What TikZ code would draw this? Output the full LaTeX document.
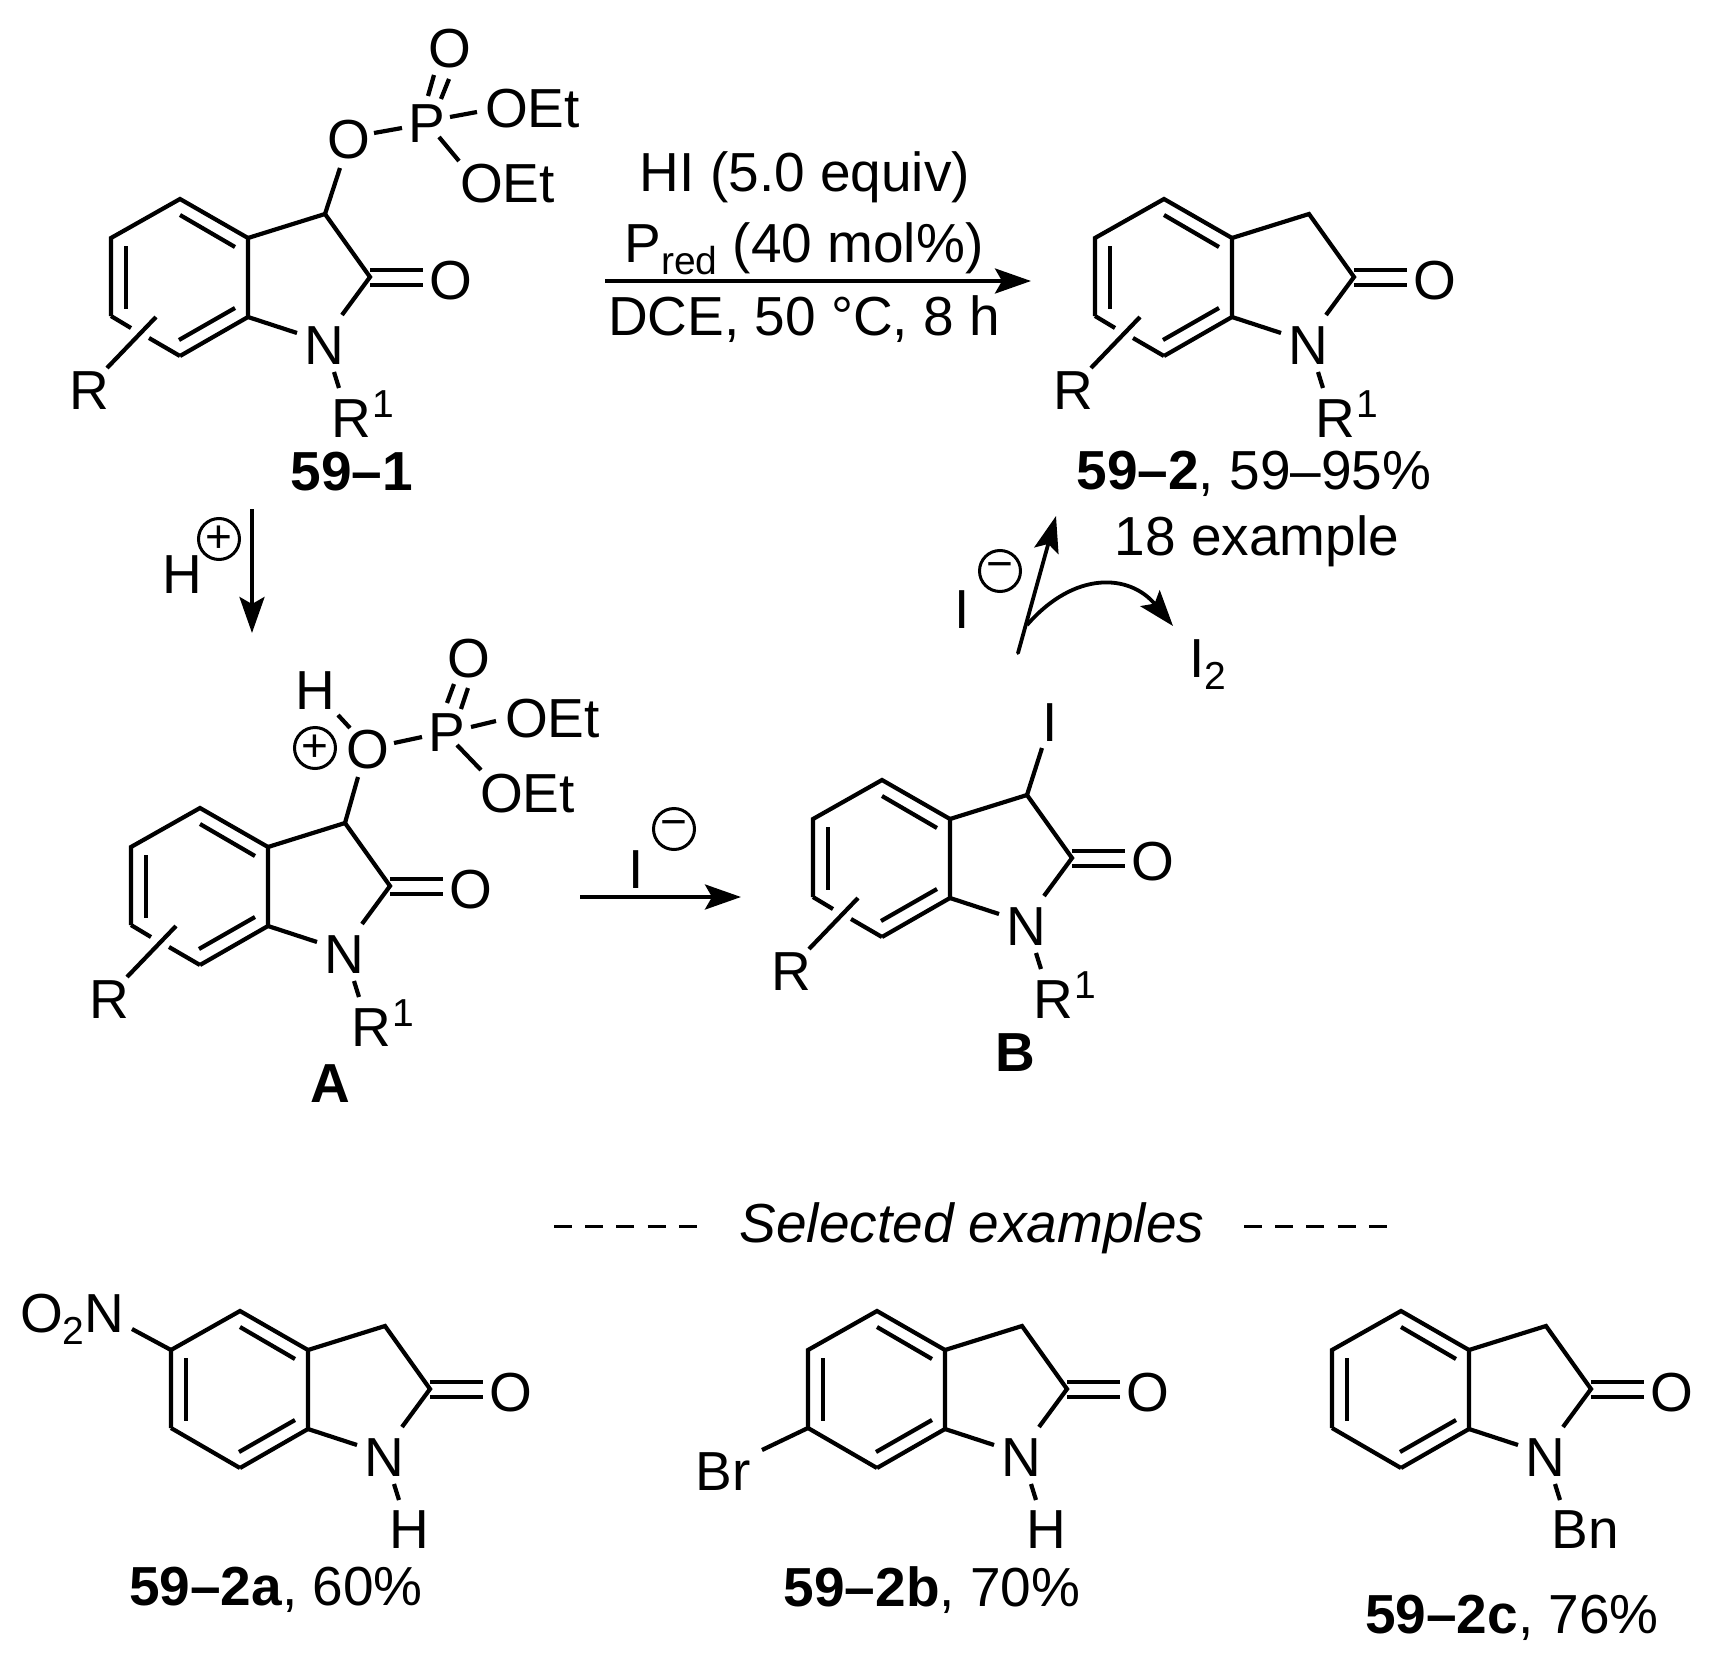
\documentclass[tikz,border=0pt]{standalone}
\usepackage{fontspec}
\setmainfont{Liberation Sans}
\usetikzlibrary{arrows.meta}
\newcommand{\chemfs}{\fontsize{27.5}{33}\selectfont}
\newcommand{\subfs}{\fontsize{19.5}{24}\selectfont}
\newcommand{\Rone}{R\kern1pt\raisebox{10pt}{\subfs 1}}
\tikzset{
  bond/.style={line width=2.1pt,line cap=butt,line join=miter},
  atom/.style={font=\chemfs,inner sep=0pt,outer sep=0pt,anchor=center},
  atomw/.style={font=\chemfs,inner sep=0pt,outer sep=0pt,anchor=base west},
  charge/.style={draw,circle,line width=1.5pt,minimum size=20.5pt,inner sep=0pt,font=\fontsize{23}{23}\selectfont},
  rxn/.style={line width=1.9pt,-{Stealth[length=18pt,width=12.5pt,inset=3.5pt]}}
}
% #1 id, #2 x, #3 y, #4 1=R substituent crossing the ring
\newcommand{\oxcore}[4]{%
  \begin{scope}[shift={(#2,#3)}]
    \coordinate (#1top) at (-68,-39);
    \coordinate (#1ul) at (-137,0);
    \coordinate (#1ll) at (-137,78);
    \coordinate (#1bot) at (-68,118);
    \coordinate (#1c7a) at (0,79);
    \coordinate (#1c3a) at (0,0);
    \coordinate (#1c3) at (77,-24);
    \coordinate (#1c2) at (122,39);
    \coordinate (#1na) at (94,77);
    \coordinate (#1nb) at (49,95);
    \coordinate (#1nc) at (86,134);
    \coordinate (#1nd) at (91,150);
    \coordinate (#1i1) at (-68,-23);
    \coordinate (#1i2) at (-13,9);
    \coordinate (#1i3) at (-122,8);
    \coordinate (#1i4) at (-122,71);
    \coordinate (#1i5) at (-69,102);
    \coordinate (#1i6) at (-13,70);
    \coordinate (#1d1) at (122,32);
    \coordinate (#1d2) at (175,32);
    \coordinate (#1d3) at (122,47);
    \coordinate (#1d4) at (175,47);
    \node[atom] (#1O) at (203,43) {O};
    \node[atom] (#1N) at (76,108) {N};
    \draw[bond] (#1bot) -- (#1c7a) -- (#1c3a) -- (#1top) -- (#1ul) -- (#1ll);
    \draw[bond] (#1c3a) -- (#1c3) -- (#1c2) -- (#1na);
    \draw[bond] (#1c7a) -- (#1nb);
    \draw[bond] (#1nc) -- (#1nd);
    \draw[bond] (#1i1) -- (#1i2);
    \draw[bond] (#1i3) -- (#1i4);
    \draw[bond] (#1i5) -- (#1i6);
    \draw[bond] (#1d1) -- (#1d2);
    \draw[bond] (#1d3) -- (#1d4);
    \ifnum#4=1
      \coordinate (#1g1) at (-117,90);
      \coordinate (#1g2) at (-99,100);
      \coordinate (#1r1) at (-141,130);
      \coordinate (#1r2) at (-92,79);
      \draw[bond] (#1ll) -- (#1g1);
      \draw[bond] (#1g2) -- (#1bot);
      \draw[bond] (#1r1) -- (#1r2);
      \node[atom] (#1R) at (-159,153) {R};
      \node[atomw] (#1Rone) at (83,199) {\Rone};
    \else
      \draw[bond] (#1ll) -- (#1bot);
    \fi
  \end{scope}}
\begin{document}
\begin{tikzpicture}[x=0.5pt,y=-0.5pt]
\useasboundingbox (0,0) rectangle (1726,1665);

% 59-1
\oxcore{a}{248}{238}{1}
\node[atom] (aOe) at (349,140) {O};
\node[atom] (aP) at (427,124) {P};
\node[atom] (aOt) at (450,49) {O};
\node[atomw] (aE1) at (485,127) {OEt};
\node[atomw] (aE2) at (460,202) {OEt};
\coordinate (ab1) at (340,168);
\coordinate (ab2) at (374,133);
\coordinate (ab3) at (402,128);
\coordinate (ab4) at (434,75);
\coordinate (ab5) at (428,96);
\coordinate (ab6) at (449,79);
\coordinate (ab7) at (441,99);
\coordinate (ab8) at (450,117);
\coordinate (ab9) at (477,112);
\coordinate (ab10) at (439,137);
\coordinate (ab11) at (459,161);
\draw[bond] (ac3) -- (ab1);
\draw[bond] (ab2) -- (ab3);
\draw[bond] (ab4) -- (ab5);
\draw[bond] (ab6) -- (ab7);
\draw[bond] (ab8) -- (ab9);
\draw[bond] (ab10) -- (ab11);
\node[font=\chemfs\bfseries,inner sep=0pt] (l1) at (352,472) {59–1};

% 59-2
\oxcore{b}{1232}{238}{1}
\node[font=\chemfs,inner sep=0pt] (l2) at (1254,474) {\textbf{59–2}, 59–95\%};
\node[font=\chemfs,inner sep=0pt] (l3) at (1257,541) {18 example};

% conditions
\coordinate (c1) at (605,281);
\coordinate (c2) at (1031,281);
\draw[rxn] (c1) -- (c2);
\node[font=\chemfs,inner sep=0pt] (t1) at (805,177) {HI (5.0 equiv)};
\node[font=\chemfs,inner sep=0pt] (t2) at (804,249) {P\raisebox{-6pt}{\subfs red} (40 mol\%)};
\node[font=\chemfs,inner sep=0pt] (t3) at (804,319) {DCE, 50 °C, 8 h};

% H+
\node[atom] (hp) at (182,575) {H};
\node[charge] (hq) at (219,539) {+};
\coordinate (d1) at (252,509);
\coordinate (d2) at (252,633);
\draw[rxn] (d1) -- (d2);

% A
\oxcore{c}{268}{847}{1}
\node[atom] (cOe) at (368,750) {O};
\node[atom] (cP) at (447,733) {P};
\node[atom] (cOt) at (469,659) {O};
\node[atom] (cH) at (315,691) {H};
\node[charge] (cq) at (315,748) {+};
\node[atomw] (cE1) at (505,737) {OEt};
\node[atomw] (cE2) at (480,812) {OEt};
\coordinate (cb1) at (358,777);
\coordinate (cb2) at (394,743);
\coordinate (cb3) at (422,737);
\coordinate (cb4) at (454,684);
\coordinate (cb5) at (447,703);
\coordinate (cb6) at (468,688);
\coordinate (cb7) at (461,709);
\coordinate (cb8) at (471,727);
\coordinate (cb9) at (496,721);
\coordinate (cb10) at (457,745);
\coordinate (cb11) at (481,770);
\coordinate (cb12) at (338,715);
\coordinate (cb13) at (350,728);
\draw[bond] (cc3) -- (cb1);
\draw[bond] (cb2) -- (cb3);
\draw[bond] (cb4) -- (cb5);
\draw[bond] (cb6) -- (cb7);
\draw[bond] (cb8) -- (cb9);
\draw[bond] (cb10) -- (cb11);
\draw[bond] (cb12) -- (cb13);
\node[font=\chemfs\bfseries,inner sep=0pt] (l4) at (330,1084) {A};

% I- arrow
\node[atom] (im) at (636,870) {I};
\node[charge] (iq) at (674,829) {−};
\coordinate (e1) at (580,897);
\coordinate (e2) at (741,897);
\draw[rxn] (e1) -- (e2);

% B
\oxcore{d}{950}{819}{1}
\node[atom] (dI) at (1050,723) {I};
\coordinate (db1) at (1042,748);
\draw[bond] (dc3) -- (db1);
\node[font=\chemfs\bfseries,inner sep=0pt] (l5) at (1015,1053) {B};

% step to 59-2
\node[atom] (fI) at (962,610) {I};
\node[charge] (fq) at (1000,571) {−};
\coordinate (f1) at (1018,653);
\coordinate (f2) at (1056,516);
\coordinate (f3) at (1027,625);
\coordinate (f4) at (1173,626);
\draw[rxn,line cap=round] (f1) -- (f2);
\draw[rxn] (f3) .. controls (1075,570) and (1130,574) .. (f4);
\node[atomw] (fI2) at (1189,677) {I\raisebox{-6pt}{\subfs 2}};

% selected examples
\node[font=\chemfs\itshape,inner sep=0pt] (sel) at (972,1228) {Selected examples};
\coordinate (g1) at (554,1226);
\coordinate (g2) at (705,1226);
\coordinate (g3) at (1244,1226);
\coordinate (g4) at (1398,1226);
\draw[line width=1.5pt,dash pattern=on 9pt off 6.6pt] (g1) -- (g2);
\draw[line width=1.5pt,dash pattern=on 9pt off 6.6pt] (g3) -- (g4);

% 59-2a
\oxcore{e}{308}{1350}{0}
\node[atom] (eH) at (409,1530) {H};
\node[atomw] (eno) at (20,1332) {O\raisebox{-6pt}{\subfs 2}N};
\coordinate (eb1) at (132,1329);
\draw[bond] (eul) -- (eb1);
\node[font=\chemfs,inner sep=0pt] (l6) at (276,1590) {\textbf{59–2a}, 60\%};

% 59-2b
\oxcore{f}{945}{1350}{0}
\node[atom] (fH) at (1046,1530) {H};
\node[atom] (fBr) at (723,1472) {Br};
\coordinate (fb1) at (762,1450);
\draw[bond] (fll) -- (fb1);
\node[font=\chemfs,inner sep=0pt] (l7) at (932,1590) {\textbf{59–2b}, 70\%};

% 59-2c
\oxcore{g}{1469}{1350}{0}
\node[atom] (gBn) at (1585,1530) {Bn};
\node[font=\chemfs,inner sep=0pt] (l8) at (1512,1618) {\textbf{59–2c}, 76\%};
\end{tikzpicture}
\end{document}
